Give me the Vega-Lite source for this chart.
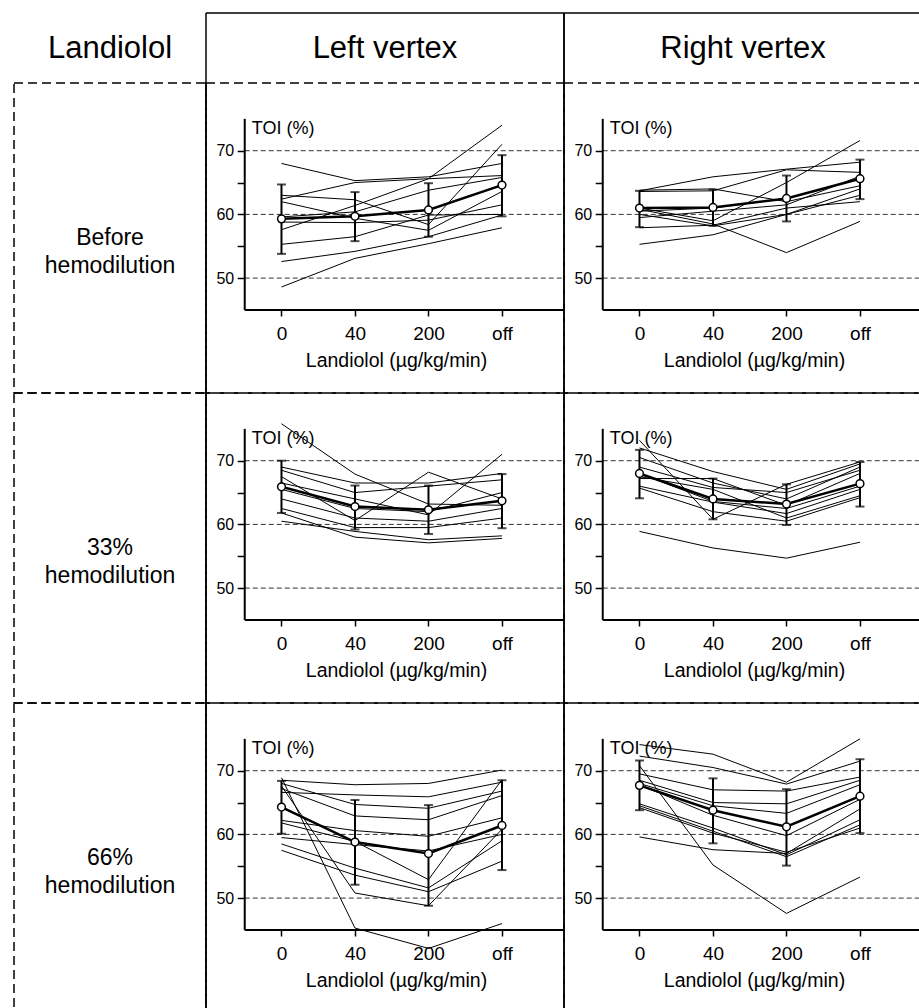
{
  "$schema": "https://vega.github.io/schema/vega-lite/v6.json",
  "padding": {"left": 13, "top": 12, "right": 0, "bottom": 0},
  "background": "white",
  "columns": 3,
  "spacing": 0,
  "bounds": "flush",
  "align": "each",
  "config": {
    "font": "Liberation Sans",
    "view": {"stroke": null},
    "axis": {"labelColor": "black", "tickColor": "black", "titleColor": "black", "labelFont": "Liberation Sans", "titleFont": "Liberation Sans", "titleFontWeight": "normal", "labelFontWeight": "normal"}
  },
  "datasets": {
    "indiv": [
      {"panel": "LV1", "id": 1, "0": 68.0, "1": 65.3, "2": 65.9, "3": 68.0},
      {"panel": "LV1", "id": 2, "0": 62.4, "1": 65.0, "2": 65.6, "3": 66.1},
      {"panel": "LV1", "id": 3, "0": 57.6, "1": 61.4, "2": 65.6, "3": 74.0},
      {"panel": "LV1", "id": 4, "0": 63.0, "1": 62.3, "2": 58.4, "3": 71.0},
      {"panel": "LV1", "id": 5, "0": 62.0, "1": 59.4, "2": 57.5, "3": 63.6},
      {"panel": "LV1", "id": 6, "0": 59.6, "1": 60.4, "2": 63.8, "3": 65.8},
      {"panel": "LV1", "id": 7, "0": 58.8, "1": 58.7, "2": 59.1, "3": 61.5},
      {"panel": "LV1", "id": 8, "0": 55.3, "1": 56.5, "2": 59.9, "3": 60.0},
      {"panel": "LV1", "id": 9, "0": 52.6, "1": 54.2, "2": 56.5, "3": 59.9},
      {"panel": "LV1", "id": 10, "0": 48.6, "1": 53.1, "2": 55.4, "3": 57.9},
      {"panel": "RV1", "id": 1, "0": 63.7, "1": 65.9, "2": 67.1, "3": 68.2},
      {"panel": "RV1", "id": 2, "0": 63.6, "1": 63.7, "2": 67.0, "3": 66.6},
      {"panel": "RV1", "id": 3, "0": 63.8, "1": 64.0, "2": 62.0, "3": 64.5},
      {"panel": "RV1", "id": 4, "0": 61.0, "1": 59.0, "2": 65.0, "3": 71.6},
      {"panel": "RV1", "id": 5, "0": 60.5, "1": 61.0, "2": 62.5, "3": 65.6},
      {"panel": "RV1", "id": 6, "0": 60.0, "1": 58.2, "2": 60.0, "3": 63.0},
      {"panel": "RV1", "id": 7, "0": 59.5, "1": 60.5, "2": 61.5, "3": 66.0},
      {"panel": "RV1", "id": 8, "0": 57.9, "1": 58.3, "2": 61.0, "3": 62.0},
      {"panel": "RV1", "id": 9, "0": 60.8, "1": 58.5, "2": 54.0, "3": 58.9},
      {"panel": "RV1", "id": 10, "0": 55.3, "1": 56.8, "2": 60.0, "3": 64.0},
      {"panel": "LV2", "id": 1, "0": 75.8, "1": 67.9, "2": 63.2, "3": 63.0},
      {"panel": "LV2", "id": 2, "0": 69.0, "1": 66.5, "2": 66.5, "3": 68.0},
      {"panel": "LV2", "id": 3, "0": 68.5, "1": 65.0, "2": 66.0, "3": 67.0},
      {"panel": "LV2", "id": 4, "0": 67.5, "1": 60.6, "2": 68.2, "3": 64.0},
      {"panel": "LV2", "id": 5, "0": 66.5, "1": 64.0, "2": 61.5, "3": 71.0},
      {"panel": "LV2", "id": 6, "0": 65.5, "1": 62.5, "2": 62.0, "3": 65.0},
      {"panel": "LV2", "id": 7, "0": 64.0, "1": 61.0, "2": 60.5, "3": 62.5},
      {"panel": "LV2", "id": 8, "0": 62.5, "1": 59.5, "2": 59.5, "3": 61.0},
      {"panel": "LV2", "id": 9, "0": 61.8, "1": 58.0, "2": 57.1, "3": 57.8},
      {"panel": "LV2", "id": 10, "0": 60.5, "1": 58.9, "2": 57.6, "3": 58.2},
      {"panel": "RV2", "id": 1, "0": 73.2, "1": 60.8, "2": 66.3, "3": 69.8},
      {"panel": "RV2", "id": 2, "0": 72.0, "1": 68.3, "2": 65.5, "3": 69.5},
      {"panel": "RV2", "id": 3, "0": 70.5, "1": 66.5, "2": 64.0, "3": 69.0},
      {"panel": "RV2", "id": 4, "0": 69.0, "1": 65.8, "2": 65.0, "3": 68.5},
      {"panel": "RV2", "id": 5, "0": 68.0, "1": 63.6, "2": 62.5, "3": 66.0},
      {"panel": "RV2", "id": 6, "0": 67.5, "1": 65.5, "2": 61.0, "3": 64.5},
      {"panel": "RV2", "id": 7, "0": 66.0, "1": 63.5, "2": 61.7, "3": 65.5},
      {"panel": "RV2", "id": 8, "0": 65.7, "1": 62.0, "2": 60.5, "3": 64.2},
      {"panel": "RV2", "id": 9, "0": 67.2, "1": 67.2, "2": 63.0, "3": 68.0},
      {"panel": "RV2", "id": 10, "0": 58.9, "1": 56.3, "2": 54.7, "3": 57.2},
      {"panel": "LV3", "id": 1, "0": 68.9, "1": 45.3, "2": 42.1, "3": 46.0},
      {"panel": "LV3", "id": 2, "0": 68.5, "1": 67.8, "2": 68.0, "3": 70.1},
      {"panel": "LV3", "id": 3, "0": 66.6, "1": 66.2, "2": 65.9, "3": 68.2},
      {"panel": "LV3", "id": 4, "0": 68.0, "1": 64.7, "2": 64.1, "3": 66.8},
      {"panel": "LV3", "id": 5, "0": 67.2, "1": 62.9, "2": 62.3, "3": 66.1},
      {"panel": "LV3", "id": 6, "0": 62.2, "1": 60.6, "2": 59.7, "3": 62.6},
      {"panel": "LV3", "id": 7, "0": 61.8, "1": 58.9, "2": 52.9, "3": 68.6},
      {"panel": "LV3", "id": 8, "0": 59.5, "1": 58.4, "2": 57.4, "3": 60.0},
      {"panel": "LV3", "id": 9, "0": 58.5, "1": 54.7, "2": 51.6, "3": 59.0},
      {"panel": "LV3", "id": 10, "0": 57.5, "1": 53.6, "2": 51.0, "3": 55.8},
      {"panel": "LV3", "id": 11, "0": 67.6, "1": 50.8, "2": 48.8, "3": 60.8},
      {"panel": "RV3", "id": 1, "0": 74.1, "1": 72.6, "2": 68.2, "3": 75.0},
      {"panel": "RV3", "id": 2, "0": 72.3, "1": 70.5, "2": 67.9, "3": 71.5},
      {"panel": "RV3", "id": 3, "0": 70.8, "1": 55.2, "2": 47.6, "3": 53.3},
      {"panel": "RV3", "id": 4, "0": 69.5, "1": 67.0, "2": 66.8, "3": 69.0},
      {"panel": "RV3", "id": 5, "0": 68.5, "1": 65.0, "2": 64.8, "3": 68.5},
      {"panel": "RV3", "id": 6, "0": 68.0, "1": 64.5, "2": 63.3, "3": 67.8},
      {"panel": "RV3", "id": 7, "0": 67.8, "1": 63.0, "2": 59.8, "3": 65.5},
      {"panel": "RV3", "id": 8, "0": 64.8, "1": 61.0, "2": 56.8, "3": 62.3},
      {"panel": "RV3", "id": 9, "0": 64.5, "1": 60.5, "2": 56.5, "3": 61.5},
      {"panel": "RV3", "id": 10, "0": 64.2, "1": 60.2, "2": 57.2, "3": 61.0},
      {"panel": "RV3", "id": 11, "0": 59.6, "1": 57.6, "2": 57.0, "3": 64.0}
    ],
    "means": [
      {"panel": "LV1", "xi": 0, "m": 59.3, "lo": 53.8, "hi": 64.7},
      {"panel": "LV1", "xi": 1, "m": 59.7, "lo": 55.8, "hi": 63.5},
      {"panel": "LV1", "xi": 2, "m": 60.7, "lo": 56.5, "hi": 64.9},
      {"panel": "LV1", "xi": 3, "m": 64.6, "lo": 59.7, "hi": 69.3},
      {"panel": "RV1", "xi": 0, "m": 61.0, "lo": 58.0, "hi": 63.7},
      {"panel": "RV1", "xi": 1, "m": 61.1, "lo": 58.2, "hi": 63.9},
      {"panel": "RV1", "xi": 2, "m": 62.5, "lo": 58.9, "hi": 66.1},
      {"panel": "RV1", "xi": 3, "m": 65.6, "lo": 62.4, "hi": 68.6},
      {"panel": "LV2", "xi": 0, "m": 65.9, "lo": 61.8, "hi": 70.0},
      {"panel": "LV2", "xi": 1, "m": 62.8, "lo": 59.2, "hi": 66.1},
      {"panel": "LV2", "xi": 2, "m": 62.3, "lo": 58.5, "hi": 66.1},
      {"panel": "LV2", "xi": 3, "m": 63.7, "lo": 59.4, "hi": 67.9},
      {"panel": "RV2", "xi": 0, "m": 68.0, "lo": 64.1, "hi": 71.7},
      {"panel": "RV2", "xi": 1, "m": 64.0, "lo": 60.8, "hi": 67.2},
      {"panel": "RV2", "xi": 2, "m": 63.2, "lo": 59.9, "hi": 66.3},
      {"panel": "RV2", "xi": 3, "m": 66.4, "lo": 62.8, "hi": 69.8},
      {"panel": "LV3", "xi": 0, "m": 64.3, "lo": 60.1, "hi": 68.4},
      {"panel": "LV3", "xi": 1, "m": 58.8, "lo": 52.1, "hi": 65.4},
      {"panel": "LV3", "xi": 2, "m": 57.0, "lo": 48.8, "hi": 64.6},
      {"panel": "LV3", "xi": 3, "m": 61.4, "lo": 54.4, "hi": 68.5},
      {"panel": "RV3", "xi": 0, "m": 67.7, "lo": 63.8, "hi": 71.6},
      {"panel": "RV3", "xi": 1, "m": 63.8, "lo": 58.6, "hi": 68.8},
      {"panel": "RV3", "xi": 2, "m": 61.2, "lo": 55.1, "hi": 67.1},
      {"panel": "RV3", "xi": 3, "m": 66.0, "lo": 60.2, "hi": 71.8}
    ]
  },
  "concat": [
    {"width": 192, "height": 70, "data": {"values": [{"t": "Landiolol"}]},
     "mark": {"type": "text", "fontSize": 31, "baseline": "alphabetic", "color": "black"},
     "encoding": {"text": {"field": "t"},
       "x": {"datum": 0.5, "type": "quantitative", "scale": {"domain": [0, 1], "nice": false, "zero": false}, "axis": null},
       "y": {"datum": 0.361, "type": "quantitative", "scale": {"domain": [0, 1], "nice": false, "zero": false}, "axis": null}}},
    {"width": 358, "height": 70,
     "layer": [
      {"data": {"values": [{"t": "Left vertex"}]},
       "mark": {"type": "text", "fontSize": 31, "baseline": "alphabetic", "color": "black"},
       "encoding": {"text": {"field": "t"},
         "x": {"datum": 0.5, "type": "quantitative", "scale": {"domain": [0, 1], "nice": false, "zero": false}, "axis": null},
         "y": {"datum": 0.361, "type": "quantitative", "scale": {"domain": [0, 1], "nice": false, "zero": false}, "axis": null}}},
      {"data": {"values": [{}]}, "mark": {"type": "rule", "color": "black", "strokeWidth": 1.5}, "encoding": {"x": {"datum": 0}}},
      {"data": {"values": [{}]}, "mark": {"type": "rule", "color": "black", "strokeWidth": 1.5}, "encoding": {"x": {"datum": 1}}},
      {"data": {"values": [{}]}, "mark": {"type": "rule", "color": "black", "strokeWidth": 1.5}, "encoding": {"y": {"datum": 1}}}
     ]},
    {"width": 358, "height": 70,
     "layer": [
      {"data": {"values": [{"t": "Right vertex"}]},
       "mark": {"type": "text", "fontSize": 31, "baseline": "alphabetic", "color": "black"},
       "encoding": {"text": {"field": "t"},
         "x": {"datum": 0.5, "type": "quantitative", "scale": {"domain": [0, 1], "nice": false, "zero": false}, "axis": null},
         "y": {"datum": 0.361, "type": "quantitative", "scale": {"domain": [0, 1], "nice": false, "zero": false}, "axis": null}}},
      {"data": {"values": [{}]}, "mark": {"type": "rule", "color": "black", "strokeWidth": 1.5}, "encoding": {"x": {"datum": 0}}},
      {"data": {"values": [{}]}, "mark": {"type": "rule", "color": "black", "strokeWidth": 1.5}, "encoding": {"x": {"datum": 1}}},
      {"data": {"values": [{}]}, "mark": {"type": "rule", "color": "black", "strokeWidth": 1.5}, "encoding": {"y": {"datum": 1}}}
     ]},
    {"width": 192, "height": 310, "view": {"stroke": "black", "strokeDash": [9, 5], "strokeWidth": 1.5},
     "data": {"values": [{"t": "Before\nhemodilution"}]},
     "mark": {"type": "text", "fontSize": 23, "lineBreak": "\n", "lineHeight": 28, "align": "center", "baseline": "middle", "color": "black"},
     "encoding": {"text": {"field": "t"}}},
    {"width": 358, "height": 310, "view": {"stroke": "black", "strokeDash": [9, 5], "strokeWidth": 1.5},
     "layer": [
      {"data": {"values": [{"g": 50}, {"g": 60}, {"g": 70}]},
       "mark": {"type": "rule", "color": "#333333", "strokeWidth": 1, "strokeDash": [5, 3]},
       "encoding": {
         "x": {"datum": -0.5, "type": "quantitative", "scale": {"domain": [-1.027, 3.844], "nice": false, "zero": false},
           "axis": {"orient": "bottom", "offset": -83, "values": [0, 1, 2, 3], "labelExpr": "['0','40','200','off'][datum.value]", "domain": false, "grid": false, "tickSize": 6, "tickWidth": 1.5, "labelFontSize": 19, "labelPadding": 8, "labelFlush": false, "labelOverlap": false, "title": "Landiolol (µg/kg/min)", "titleFontSize": 19.5, "titlePadding": 8, "titleX": 190}},
         "x2": {"datum": 3.844},
         "y": {"field": "g", "type": "quantitative", "scale": {"domain": [31.96, 80.63], "nice": false, "zero": false},
           "axis": {"orient": "left", "offset": -38.7, "values": [50, 55, 60, 65, 70], "labelExpr": "datum.value % 10 === 0 ? datum.label : ''", "domain": false, "grid": false, "tickSize": 7.5, "tickWidth": 1.5, "labelFontSize": 16, "labelPadding": 3.5, "title": null}}}},
      {"data": {"name": "indiv"}, "transform": [{"filter": "datum.panel === 'LV1'"}, {"fold": ["0", "1", "2", "3"], "as": ["xi", "v"]}],
       "mark": {"type": "line", "color": "black", "strokeWidth": 1},
       "encoding": {"x": {"field": "xi", "type": "quantitative"}, "y": {"field": "v", "type": "quantitative"}, "detail": {"field": "id", "type": "nominal"}}},
      {"data": {"values": [{}]}, "mark": {"type": "rule", "color": "black", "strokeWidth": 2}, "encoding": {"x": {"datum": -0.5}, "y": {"datum": 45}, "y2": {"datum": 75}}},
      {"data": {"values": [{}]}, "mark": {"type": "rule", "color": "black", "strokeWidth": 2}, "encoding": {"x": {"datum": -0.5}, "x2": {"datum": 3.844}, "y": {"datum": 45}}},
      {"data": {"name": "means"}, "transform": [{"filter": "datum.panel === 'LV1'"}],
       "layer": [
        {"mark": {"type": "rule", "color": "black", "strokeWidth": 2}, "encoding": {"x": {"field": "xi", "type": "quantitative"}, "y": {"field": "lo", "type": "quantitative"}, "y2": {"field": "hi"}}},
        {"mark": {"type": "tick", "orient": "horizontal", "color": "black", "size": 9, "thickness": 2}, "encoding": {"x": {"field": "xi", "type": "quantitative"}, "y": {"field": "lo", "type": "quantitative"}}},
        {"mark": {"type": "tick", "orient": "horizontal", "color": "black", "size": 9, "thickness": 2}, "encoding": {"x": {"field": "xi", "type": "quantitative"}, "y": {"field": "hi", "type": "quantitative"}}},
        {"mark": {"type": "line", "color": "black", "strokeWidth": 2.5}, "encoding": {"x": {"field": "xi", "type": "quantitative"}, "y": {"field": "m", "type": "quantitative"}}},
        {"mark": {"type": "point", "shape": "circle", "filled": true, "fill": "white", "stroke": "black", "strokeWidth": 1.5, "size": 60, "opacity": 1}, "encoding": {"x": {"field": "xi", "type": "quantitative"}, "y": {"field": "m", "type": "quantitative"}}}
       ]},
      {"data": {"values": [{"t": "TOI (%)"}]}, "mark": {"type": "text", "align": "left", "baseline": "alphabetic", "dx": 7, "fontSize": 18, "color": "black"}, "encoding": {"x": {"datum": -0.5}, "y": {"datum": 72.67}, "text": {"field": "t"}}},
      {"data": {"values": [{}]}, "mark": {"type": "rule", "color": "black", "strokeWidth": 1.5}, "encoding": {"x": {"datum": -1.027}}}
     ]},
    {"width": 358, "height": 310, "view": {"stroke": "black", "strokeDash": [9, 5], "strokeWidth": 1.5},
     "layer": [
      {"data": {"values": [{"g": 50}, {"g": 60}, {"g": 70}]},
       "mark": {"type": "rule", "color": "#333333", "strokeWidth": 1, "strokeDash": [5, 3]},
       "encoding": {
         "x": {"datum": -0.5, "type": "quantitative", "scale": {"domain": [-1.027, 3.844], "nice": false, "zero": false},
           "axis": {"orient": "bottom", "offset": -83, "values": [0, 1, 2, 3], "labelExpr": "['0','40','200','off'][datum.value]", "domain": false, "grid": false, "tickSize": 6, "tickWidth": 1.5, "labelFontSize": 19, "labelPadding": 8, "labelFlush": false, "labelOverlap": false, "title": "Landiolol (µg/kg/min)", "titleFontSize": 19.5, "titlePadding": 8, "titleX": 190}},
         "x2": {"datum": 3.844},
         "y": {"field": "g", "type": "quantitative", "scale": {"domain": [31.96, 80.63], "nice": false, "zero": false},
           "axis": {"orient": "left", "offset": -38.7, "values": [50, 55, 60, 65, 70], "labelExpr": "datum.value % 10 === 0 ? datum.label : ''", "domain": false, "grid": false, "tickSize": 7.5, "tickWidth": 1.5, "labelFontSize": 16, "labelPadding": 3.5, "title": null}}}},
      {"data": {"name": "indiv"}, "transform": [{"filter": "datum.panel === 'RV1'"}, {"fold": ["0", "1", "2", "3"], "as": ["xi", "v"]}],
       "mark": {"type": "line", "color": "black", "strokeWidth": 1},
       "encoding": {"x": {"field": "xi", "type": "quantitative"}, "y": {"field": "v", "type": "quantitative"}, "detail": {"field": "id", "type": "nominal"}}},
      {"data": {"values": [{}]}, "mark": {"type": "rule", "color": "black", "strokeWidth": 2}, "encoding": {"x": {"datum": -0.5}, "y": {"datum": 45}, "y2": {"datum": 75}}},
      {"data": {"values": [{}]}, "mark": {"type": "rule", "color": "black", "strokeWidth": 2}, "encoding": {"x": {"datum": -0.5}, "x2": {"datum": 3.844}, "y": {"datum": 45}}},
      {"data": {"name": "means"}, "transform": [{"filter": "datum.panel === 'RV1'"}],
       "layer": [
        {"mark": {"type": "rule", "color": "black", "strokeWidth": 2}, "encoding": {"x": {"field": "xi", "type": "quantitative"}, "y": {"field": "lo", "type": "quantitative"}, "y2": {"field": "hi"}}},
        {"mark": {"type": "tick", "orient": "horizontal", "color": "black", "size": 9, "thickness": 2}, "encoding": {"x": {"field": "xi", "type": "quantitative"}, "y": {"field": "lo", "type": "quantitative"}}},
        {"mark": {"type": "tick", "orient": "horizontal", "color": "black", "size": 9, "thickness": 2}, "encoding": {"x": {"field": "xi", "type": "quantitative"}, "y": {"field": "hi", "type": "quantitative"}}},
        {"mark": {"type": "line", "color": "black", "strokeWidth": 2.5}, "encoding": {"x": {"field": "xi", "type": "quantitative"}, "y": {"field": "m", "type": "quantitative"}}},
        {"mark": {"type": "point", "shape": "circle", "filled": true, "fill": "white", "stroke": "black", "strokeWidth": 1.5, "size": 60, "opacity": 1}, "encoding": {"x": {"field": "xi", "type": "quantitative"}, "y": {"field": "m", "type": "quantitative"}}}
       ]},
      {"data": {"values": [{"t": "TOI (%)"}]}, "mark": {"type": "text", "align": "left", "baseline": "alphabetic", "dx": 7, "fontSize": 18, "color": "black"}, "encoding": {"x": {"datum": -0.5}, "y": {"datum": 72.67}, "text": {"field": "t"}}},
      {"data": {"values": [{}]}, "mark": {"type": "rule", "color": "black", "strokeWidth": 1.5}, "encoding": {"x": {"datum": -1.027}}}
     ]},
    {"width": 192, "height": 310, "view": {"stroke": "black", "strokeDash": [9, 5], "strokeWidth": 1.5},
     "data": {"values": [{"t": "33%\nhemodilution"}]},
     "mark": {"type": "text", "fontSize": 23, "lineBreak": "\n", "lineHeight": 28, "align": "center", "baseline": "middle", "color": "black"},
     "encoding": {"text": {"field": "t"}}},
    {"width": 358, "height": 310, "view": {"stroke": "black", "strokeDash": [9, 5], "strokeWidth": 1.5},
     "layer": [
      {"data": {"values": [{"g": 50}, {"g": 60}, {"g": 70}]},
       "mark": {"type": "rule", "color": "#333333", "strokeWidth": 1, "strokeDash": [5, 3]},
       "encoding": {
         "x": {"datum": -0.5, "type": "quantitative", "scale": {"domain": [-1.027, 3.844], "nice": false, "zero": false},
           "axis": {"orient": "bottom", "offset": -83, "values": [0, 1, 2, 3], "labelExpr": "['0','40','200','off'][datum.value]", "domain": false, "grid": false, "tickSize": 6, "tickWidth": 1.5, "labelFontSize": 19, "labelPadding": 8, "labelFlush": false, "labelOverlap": false, "title": "Landiolol (µg/kg/min)", "titleFontSize": 19.5, "titlePadding": 8, "titleX": 190}},
         "x2": {"datum": 3.844},
         "y": {"field": "g", "type": "quantitative", "scale": {"domain": [31.96, 80.63], "nice": false, "zero": false},
           "axis": {"orient": "left", "offset": -38.7, "values": [50, 55, 60, 65, 70], "labelExpr": "datum.value % 10 === 0 ? datum.label : ''", "domain": false, "grid": false, "tickSize": 7.5, "tickWidth": 1.5, "labelFontSize": 16, "labelPadding": 3.5, "title": null}}}},
      {"data": {"name": "indiv"}, "transform": [{"filter": "datum.panel === 'LV2'"}, {"fold": ["0", "1", "2", "3"], "as": ["xi", "v"]}],
       "mark": {"type": "line", "color": "black", "strokeWidth": 1},
       "encoding": {"x": {"field": "xi", "type": "quantitative"}, "y": {"field": "v", "type": "quantitative"}, "detail": {"field": "id", "type": "nominal"}}},
      {"data": {"values": [{}]}, "mark": {"type": "rule", "color": "black", "strokeWidth": 2}, "encoding": {"x": {"datum": -0.5}, "y": {"datum": 45}, "y2": {"datum": 75}}},
      {"data": {"values": [{}]}, "mark": {"type": "rule", "color": "black", "strokeWidth": 2}, "encoding": {"x": {"datum": -0.5}, "x2": {"datum": 3.844}, "y": {"datum": 45}}},
      {"data": {"name": "means"}, "transform": [{"filter": "datum.panel === 'LV2'"}],
       "layer": [
        {"mark": {"type": "rule", "color": "black", "strokeWidth": 2}, "encoding": {"x": {"field": "xi", "type": "quantitative"}, "y": {"field": "lo", "type": "quantitative"}, "y2": {"field": "hi"}}},
        {"mark": {"type": "tick", "orient": "horizontal", "color": "black", "size": 9, "thickness": 2}, "encoding": {"x": {"field": "xi", "type": "quantitative"}, "y": {"field": "lo", "type": "quantitative"}}},
        {"mark": {"type": "tick", "orient": "horizontal", "color": "black", "size": 9, "thickness": 2}, "encoding": {"x": {"field": "xi", "type": "quantitative"}, "y": {"field": "hi", "type": "quantitative"}}},
        {"mark": {"type": "line", "color": "black", "strokeWidth": 2.5}, "encoding": {"x": {"field": "xi", "type": "quantitative"}, "y": {"field": "m", "type": "quantitative"}}},
        {"mark": {"type": "point", "shape": "circle", "filled": true, "fill": "white", "stroke": "black", "strokeWidth": 1.5, "size": 60, "opacity": 1}, "encoding": {"x": {"field": "xi", "type": "quantitative"}, "y": {"field": "m", "type": "quantitative"}}}
       ]},
      {"data": {"values": [{"t": "TOI (%)"}]}, "mark": {"type": "text", "align": "left", "baseline": "alphabetic", "dx": 7, "fontSize": 18, "color": "black"}, "encoding": {"x": {"datum": -0.5}, "y": {"datum": 72.67}, "text": {"field": "t"}}},
      {"data": {"values": [{}]}, "mark": {"type": "rule", "color": "black", "strokeWidth": 1.5}, "encoding": {"x": {"datum": -1.027}}}
     ]},
    {"width": 358, "height": 310, "view": {"stroke": "black", "strokeDash": [9, 5], "strokeWidth": 1.5},
     "layer": [
      {"data": {"values": [{"g": 50}, {"g": 60}, {"g": 70}]},
       "mark": {"type": "rule", "color": "#333333", "strokeWidth": 1, "strokeDash": [5, 3]},
       "encoding": {
         "x": {"datum": -0.5, "type": "quantitative", "scale": {"domain": [-1.027, 3.844], "nice": false, "zero": false},
           "axis": {"orient": "bottom", "offset": -83, "values": [0, 1, 2, 3], "labelExpr": "['0','40','200','off'][datum.value]", "domain": false, "grid": false, "tickSize": 6, "tickWidth": 1.5, "labelFontSize": 19, "labelPadding": 8, "labelFlush": false, "labelOverlap": false, "title": "Landiolol (µg/kg/min)", "titleFontSize": 19.5, "titlePadding": 8, "titleX": 190}},
         "x2": {"datum": 3.844},
         "y": {"field": "g", "type": "quantitative", "scale": {"domain": [31.96, 80.63], "nice": false, "zero": false},
           "axis": {"orient": "left", "offset": -38.7, "values": [50, 55, 60, 65, 70], "labelExpr": "datum.value % 10 === 0 ? datum.label : ''", "domain": false, "grid": false, "tickSize": 7.5, "tickWidth": 1.5, "labelFontSize": 16, "labelPadding": 3.5, "title": null}}}},
      {"data": {"name": "indiv"}, "transform": [{"filter": "datum.panel === 'RV2'"}, {"fold": ["0", "1", "2", "3"], "as": ["xi", "v"]}],
       "mark": {"type": "line", "color": "black", "strokeWidth": 1},
       "encoding": {"x": {"field": "xi", "type": "quantitative"}, "y": {"field": "v", "type": "quantitative"}, "detail": {"field": "id", "type": "nominal"}}},
      {"data": {"values": [{}]}, "mark": {"type": "rule", "color": "black", "strokeWidth": 2}, "encoding": {"x": {"datum": -0.5}, "y": {"datum": 45}, "y2": {"datum": 75}}},
      {"data": {"values": [{}]}, "mark": {"type": "rule", "color": "black", "strokeWidth": 2}, "encoding": {"x": {"datum": -0.5}, "x2": {"datum": 3.844}, "y": {"datum": 45}}},
      {"data": {"name": "means"}, "transform": [{"filter": "datum.panel === 'RV2'"}],
       "layer": [
        {"mark": {"type": "rule", "color": "black", "strokeWidth": 2}, "encoding": {"x": {"field": "xi", "type": "quantitative"}, "y": {"field": "lo", "type": "quantitative"}, "y2": {"field": "hi"}}},
        {"mark": {"type": "tick", "orient": "horizontal", "color": "black", "size": 9, "thickness": 2}, "encoding": {"x": {"field": "xi", "type": "quantitative"}, "y": {"field": "lo", "type": "quantitative"}}},
        {"mark": {"type": "tick", "orient": "horizontal", "color": "black", "size": 9, "thickness": 2}, "encoding": {"x": {"field": "xi", "type": "quantitative"}, "y": {"field": "hi", "type": "quantitative"}}},
        {"mark": {"type": "line", "color": "black", "strokeWidth": 2.5}, "encoding": {"x": {"field": "xi", "type": "quantitative"}, "y": {"field": "m", "type": "quantitative"}}},
        {"mark": {"type": "point", "shape": "circle", "filled": true, "fill": "white", "stroke": "black", "strokeWidth": 1.5, "size": 60, "opacity": 1}, "encoding": {"x": {"field": "xi", "type": "quantitative"}, "y": {"field": "m", "type": "quantitative"}}}
       ]},
      {"data": {"values": [{"t": "TOI (%)"}]}, "mark": {"type": "text", "align": "left", "baseline": "alphabetic", "dx": 7, "fontSize": 18, "color": "black"}, "encoding": {"x": {"datum": -0.5}, "y": {"datum": 72.67}, "text": {"field": "t"}}},
      {"data": {"values": [{}]}, "mark": {"type": "rule", "color": "black", "strokeWidth": 1.5}, "encoding": {"x": {"datum": -1.027}}}
     ]},
    {"width": 192, "height": 310, "view": {"stroke": "black", "strokeDash": [9, 5], "strokeWidth": 1.5},
     "data": {"values": [{"t": "66%\nhemodilution"}]},
     "mark": {"type": "text", "fontSize": 23, "lineBreak": "\n", "lineHeight": 28, "align": "center", "baseline": "middle", "color": "black"},
     "encoding": {"text": {"field": "t"}}},
    {"width": 358, "height": 310, "view": {"stroke": "black", "strokeDash": [9, 5], "strokeWidth": 1.5},
     "layer": [
      {"data": {"values": [{"g": 50}, {"g": 60}, {"g": 70}]},
       "mark": {"type": "rule", "color": "#333333", "strokeWidth": 1, "strokeDash": [5, 3]},
       "encoding": {
         "x": {"datum": -0.5, "type": "quantitative", "scale": {"domain": [-1.027, 3.844], "nice": false, "zero": false},
           "axis": {"orient": "bottom", "offset": -83, "values": [0, 1, 2, 3], "labelExpr": "['0','40','200','off'][datum.value]", "domain": false, "grid": false, "tickSize": 6, "tickWidth": 1.5, "labelFontSize": 19, "labelPadding": 8, "labelFlush": false, "labelOverlap": false, "title": "Landiolol (µg/kg/min)", "titleFontSize": 19.5, "titlePadding": 8, "titleX": 190}},
         "x2": {"datum": 3.844},
         "y": {"field": "g", "type": "quantitative", "scale": {"domain": [31.96, 80.63], "nice": false, "zero": false},
           "axis": {"orient": "left", "offset": -38.7, "values": [50, 55, 60, 65, 70], "labelExpr": "datum.value % 10 === 0 ? datum.label : ''", "domain": false, "grid": false, "tickSize": 7.5, "tickWidth": 1.5, "labelFontSize": 16, "labelPadding": 3.5, "title": null}}}},
      {"data": {"name": "indiv"}, "transform": [{"filter": "datum.panel === 'LV3'"}, {"fold": ["0", "1", "2", "3"], "as": ["xi", "v"]}],
       "mark": {"type": "line", "color": "black", "strokeWidth": 1},
       "encoding": {"x": {"field": "xi", "type": "quantitative"}, "y": {"field": "v", "type": "quantitative"}, "detail": {"field": "id", "type": "nominal"}}},
      {"data": {"values": [{}]}, "mark": {"type": "rule", "color": "black", "strokeWidth": 2}, "encoding": {"x": {"datum": -0.5}, "y": {"datum": 45}, "y2": {"datum": 75}}},
      {"data": {"values": [{}]}, "mark": {"type": "rule", "color": "black", "strokeWidth": 2}, "encoding": {"x": {"datum": -0.5}, "x2": {"datum": 3.844}, "y": {"datum": 45}}},
      {"data": {"name": "means"}, "transform": [{"filter": "datum.panel === 'LV3'"}],
       "layer": [
        {"mark": {"type": "rule", "color": "black", "strokeWidth": 2}, "encoding": {"x": {"field": "xi", "type": "quantitative"}, "y": {"field": "lo", "type": "quantitative"}, "y2": {"field": "hi"}}},
        {"mark": {"type": "tick", "orient": "horizontal", "color": "black", "size": 9, "thickness": 2}, "encoding": {"x": {"field": "xi", "type": "quantitative"}, "y": {"field": "lo", "type": "quantitative"}}},
        {"mark": {"type": "tick", "orient": "horizontal", "color": "black", "size": 9, "thickness": 2}, "encoding": {"x": {"field": "xi", "type": "quantitative"}, "y": {"field": "hi", "type": "quantitative"}}},
        {"mark": {"type": "line", "color": "black", "strokeWidth": 2.5}, "encoding": {"x": {"field": "xi", "type": "quantitative"}, "y": {"field": "m", "type": "quantitative"}}},
        {"mark": {"type": "point", "shape": "circle", "filled": true, "fill": "white", "stroke": "black", "strokeWidth": 1.5, "size": 60, "opacity": 1}, "encoding": {"x": {"field": "xi", "type": "quantitative"}, "y": {"field": "m", "type": "quantitative"}}}
       ]},
      {"data": {"values": [{"t": "TOI (%)"}]}, "mark": {"type": "text", "align": "left", "baseline": "alphabetic", "dx": 7, "fontSize": 18, "color": "black"}, "encoding": {"x": {"datum": -0.5}, "y": {"datum": 72.67}, "text": {"field": "t"}}},
      {"data": {"values": [{}]}, "mark": {"type": "rule", "color": "black", "strokeWidth": 1.5}, "encoding": {"x": {"datum": -1.027}}}
     ]},
    {"width": 358, "height": 310, "view": {"stroke": "black", "strokeDash": [9, 5], "strokeWidth": 1.5},
     "layer": [
      {"data": {"values": [{"g": 50}, {"g": 60}, {"g": 70}]},
       "mark": {"type": "rule", "color": "#333333", "strokeWidth": 1, "strokeDash": [5, 3]},
       "encoding": {
         "x": {"datum": -0.5, "type": "quantitative", "scale": {"domain": [-1.027, 3.844], "nice": false, "zero": false},
           "axis": {"orient": "bottom", "offset": -83, "values": [0, 1, 2, 3], "labelExpr": "['0','40','200','off'][datum.value]", "domain": false, "grid": false, "tickSize": 6, "tickWidth": 1.5, "labelFontSize": 19, "labelPadding": 8, "labelFlush": false, "labelOverlap": false, "title": "Landiolol (µg/kg/min)", "titleFontSize": 19.5, "titlePadding": 8, "titleX": 190}},
         "x2": {"datum": 3.844},
         "y": {"field": "g", "type": "quantitative", "scale": {"domain": [31.96, 80.63], "nice": false, "zero": false},
           "axis": {"orient": "left", "offset": -38.7, "values": [50, 55, 60, 65, 70], "labelExpr": "datum.value % 10 === 0 ? datum.label : ''", "domain": false, "grid": false, "tickSize": 7.5, "tickWidth": 1.5, "labelFontSize": 16, "labelPadding": 3.5, "title": null}}}},
      {"data": {"name": "indiv"}, "transform": [{"filter": "datum.panel === 'RV3'"}, {"fold": ["0", "1", "2", "3"], "as": ["xi", "v"]}],
       "mark": {"type": "line", "color": "black", "strokeWidth": 1},
       "encoding": {"x": {"field": "xi", "type": "quantitative"}, "y": {"field": "v", "type": "quantitative"}, "detail": {"field": "id", "type": "nominal"}}},
      {"data": {"values": [{}]}, "mark": {"type": "rule", "color": "black", "strokeWidth": 2}, "encoding": {"x": {"datum": -0.5}, "y": {"datum": 45}, "y2": {"datum": 75}}},
      {"data": {"values": [{}]}, "mark": {"type": "rule", "color": "black", "strokeWidth": 2}, "encoding": {"x": {"datum": -0.5}, "x2": {"datum": 3.844}, "y": {"datum": 45}}},
      {"data": {"name": "means"}, "transform": [{"filter": "datum.panel === 'RV3'"}],
       "layer": [
        {"mark": {"type": "rule", "color": "black", "strokeWidth": 2}, "encoding": {"x": {"field": "xi", "type": "quantitative"}, "y": {"field": "lo", "type": "quantitative"}, "y2": {"field": "hi"}}},
        {"mark": {"type": "tick", "orient": "horizontal", "color": "black", "size": 9, "thickness": 2}, "encoding": {"x": {"field": "xi", "type": "quantitative"}, "y": {"field": "lo", "type": "quantitative"}}},
        {"mark": {"type": "tick", "orient": "horizontal", "color": "black", "size": 9, "thickness": 2}, "encoding": {"x": {"field": "xi", "type": "quantitative"}, "y": {"field": "hi", "type": "quantitative"}}},
        {"mark": {"type": "line", "color": "black", "strokeWidth": 2.5}, "encoding": {"x": {"field": "xi", "type": "quantitative"}, "y": {"field": "m", "type": "quantitative"}}},
        {"mark": {"type": "point", "shape": "circle", "filled": true, "fill": "white", "stroke": "black", "strokeWidth": 1.5, "size": 60, "opacity": 1}, "encoding": {"x": {"field": "xi", "type": "quantitative"}, "y": {"field": "m", "type": "quantitative"}}}
       ]},
      {"data": {"values": [{"t": "TOI (%)"}]}, "mark": {"type": "text", "align": "left", "baseline": "alphabetic", "dx": 7, "fontSize": 18, "color": "black"}, "encoding": {"x": {"datum": -0.5}, "y": {"datum": 72.67}, "text": {"field": "t"}}},
      {"data": {"values": [{}]}, "mark": {"type": "rule", "color": "black", "strokeWidth": 1.5}, "encoding": {"x": {"datum": -1.027}}}
     ]}
  ]
}
